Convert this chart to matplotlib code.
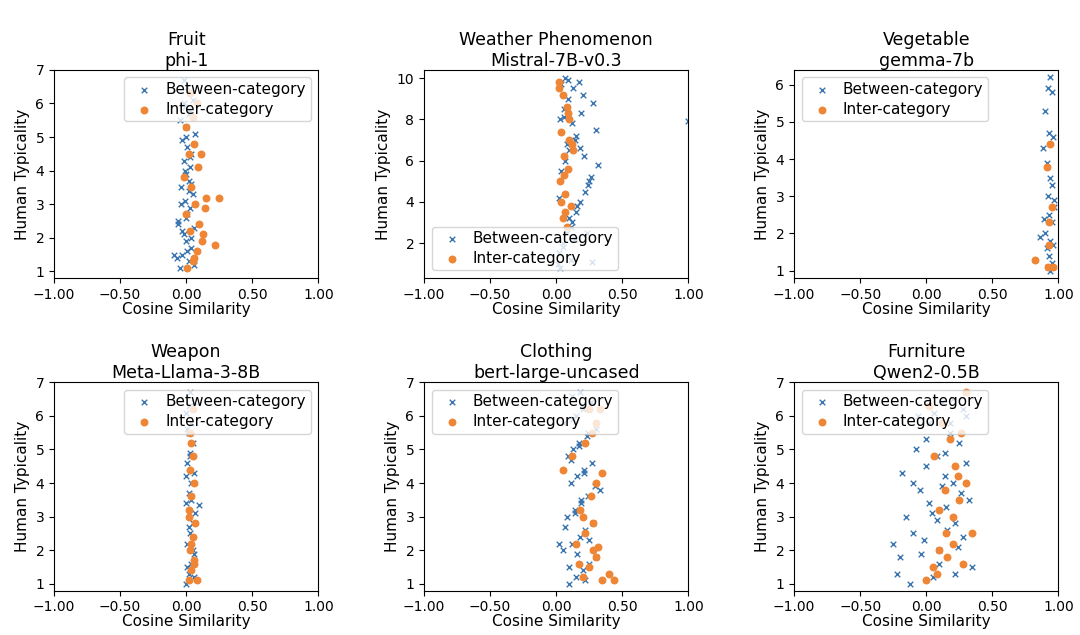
import matplotlib
matplotlib.use("Agg")
import matplotlib.pyplot as plt

titles = ["Fruit\nphi-1", "Weather Phenomenon\nMistral-7B-v0.3", "Vegetable\ngemma-7b",
          "Weapon\nMeta-Llama-3-8B", "Clothing\nbert-large-uncased", "Furniture\nQwen2-0.5B"]

# panel 1: Fruit / phi-1
p1_bx = [-0.05, 0.02, -0.03, 0.04, 0.0, -0.02, 0.06, -0.06, 0.01, 0.03, -0.01, 0.05, -0.04, 0.02, 0.0,
         -0.07, 0.03, -0.02, 0.04, 0.01, -0.03, 0.07, 0.0, -0.05, 0.02, -0.01, 0.05, -0.09, 0.03, 0.01,
         -0.02, 0.04, 0.0, -0.04, 0.02, 0.06, -0.01, 0.03, -0.03, 0.01, 0.0, 0.02, -0.02, 0.04, -0.06]
p1_by = [1.1, 1.3, 1.5, 1.7, 1.9, 2.1, 2.3, 2.5, 2.7, 2.9, 3.1, 3.3, 3.5, 3.7, 3.9,
         1.4, 4.1, 4.3, 4.5, 4.7, 4.9, 5.1, 5.3, 5.5, 5.7, 5.9, 6.1, 1.5, 6.3, 6.5,
         6.7, 2.0, 2.6, 3.0, 3.4, 1.2, 4.0, 4.4, 2.2, 1.6, 5.0, 5.8, 6.0, 3.6, 2.4]
p1_ox = [0.01, 0.05, 0.08, 0.12, 0.03, 0.1, 0.0, 0.07, 0.15, 0.04, 0.25, 0.22, 0.09, 0.02, 0.06,
         0.11, 0.13, 0.0, 0.05, 0.08, 0.03, 0.14, -0.02, 0.06]
p1_oy = [1.1, 1.3, 1.6, 1.9, 2.2, 2.4, 2.7, 3.0, 3.2, 3.5, 3.2, 1.8, 4.1, 4.5, 4.8,
         4.5, 2.1, 5.3, 5.6, 6.0, 6.3, 2.9, 3.8, 1.4]

# panel 2: Weather Phenomenon / Mistral-7B-v0.3
p2_bx = [0.02, 0.05, 0.08, 0.12, 0.15, 0.18, 0.22, 0.25, 0.04, 0.07, 0.1, 0.14, 0.3, 0.03, 0.06,
         0.09, 0.13, 0.17, 0.2, 0.28, 0.01, 0.05, 0.11, 0.16, 0.24, 0.32, 0.08, 0.12, 0.19, 0.04,
         0.07, 0.15, 0.21, 0.26, 0.02, 1.0, 0.1, 0.14, 0.09, 0.06, 0.18, 0.23, 0.03, 0.11, 0.27]
p2_by = [1.5, 2.0, 2.5, 3.0, 3.5, 4.0, 4.5, 5.0, 5.5, 6.0, 6.5, 7.0, 7.5, 8.0, 8.5,
         9.0, 9.5, 9.8, 9.2, 8.8, 1.0, 1.8, 2.8, 3.8, 4.8, 5.8, 6.8, 7.8, 8.3, 9.7,
         10.0, 7.2, 6.2, 5.2, 4.2, 7.9, 3.2, 2.2, 9.9, 8.1, 6.6, 2.5, 0.8, 1.2, 1.1]
p2_ox = [0.02, 0.05, 0.08, 0.1, 0.04, 0.12, 0.06, 0.09, 0.03, 0.07, 0.11, 0.05, 0.08, 0.02, 0.1,
         0.06, 0.04, 0.13, 0.09, 0.07]
p2_oy = [9.8, 9.2, 8.6, 8.0, 7.4, 6.8, 6.2, 5.6, 5.0, 4.4, 3.8, 3.2, 2.8, 9.5, 7.0,
         5.3, 4.0, 6.5, 8.3, 3.5]

# panel 3: Vegetable / gemma-7b
p3_bx = [0.94, 0.92, 0.95, 0.9, 0.93, 0.96, 0.88, 0.91, 0.94, 0.95, 0.92, 0.97, 0.89, 0.93, 0.95,
         0.9, 0.94, 0.96, 0.91, 0.93, 0.86, 0.95, 0.92, 0.94, 0.97]
p3_by = [6.2, 5.9, 5.8, 5.3, 4.7, 4.6, 4.3, 3.9, 3.5, 3.3, 3.0, 2.7, 2.4, 2.5, 2.3,
         2.0, 1.8, 1.7, 1.6, 1.4, 1.9, 1.2, 1.1, 1.0, 2.9]
p3_ox = [0.82, 0.92, 0.93, 0.91, 0.95, 0.94, 0.96, 0.93]
p3_oy = [1.3, 1.1, 1.7, 3.8, 2.7, 4.4, 1.1, 2.3]

# panel 4: Weapon / Meta-Llama-3-8B
p4_bx = [0.0, 0.02, 0.04, 0.06, 0.01, 0.03, 0.05, 0.07, 0.0, 0.02, 0.04, 0.06, 0.01, 0.03, 0.05,
         0.1, 0.02, 0.04, 0.0, 0.06, 0.03, 0.01, 0.05, 0.02, 0.04, 0.0, 0.03, 0.06, 0.01, 0.02]
p4_by = [1.0, 1.3, 1.6, 1.9, 2.2, 2.5, 2.8, 3.1, 3.4, 3.7, 4.0, 4.3, 4.6, 4.9, 5.2,
         3.35, 5.5, 5.8, 6.1, 6.4, 6.7, 1.5, 2.0, 2.7, 3.5, 4.2, 4.8, 1.2, 5.6, 6.3]
p4_ox = [0.02, 0.04, 0.06, 0.03, 0.05, 0.07, 0.02, 0.04, 0.06, 0.03, 0.05, 0.04, 0.08, 0.03, 0.05,
         0.06, 0.02, 0.04]
p4_oy = [1.1, 1.4, 1.7, 2.0, 2.4, 2.8, 3.2, 3.6, 4.0, 4.4, 4.8, 5.2, 1.1, 5.5, 6.2,
         1.6, 3.0, 2.2]

# panel 5: Clothing / bert-large-uncased
p5_bx = [0.1, 0.15, 0.2, 0.25, 0.3, 0.05, 0.12, 0.18, 0.22, 0.28, 0.08, 0.14, 0.19, 0.24, 0.33,
         0.02, 0.11, 0.16, 0.21, 0.27, 0.09, 0.13, 0.17, 0.23, 0.3, 0.06, 0.15, 0.2, 0.26, 0.12,
         0.18, 0.22, 0.1, 0.16, 0.25, 0.07, 0.14, 0.19, 0.29, 0.21, 0.11, 0.17, 0.24, 0.13, 0.2]
p5_by = [1.0, 1.2, 1.4, 1.6, 1.8, 2.0, 2.2, 2.4, 2.6, 2.8, 3.0, 3.2, 3.4, 3.6, 3.8,
         2.2, 4.0, 4.2, 4.4, 4.6, 4.8, 5.0, 5.2, 5.4, 5.6, 5.8, 6.0, 6.2, 6.4, 6.6,
         6.7, 1.1, 1.5, 1.9, 2.3, 2.7, 3.1, 3.5, 3.9, 4.3, 4.7, 5.1, 5.5, 5.9, 6.3]
p5_ox = [0.2, 0.25, 0.3, 0.35, 0.4, 0.44, 0.15, 0.22, 0.28, 0.32, 0.18, 0.26, 0.3, 0.35, 0.05,
         0.12, 0.22, 0.27, 0.3, 0.33, 0.25, 0.28, 0.17, 0.2]
p5_oy = [1.2, 1.5, 1.8, 1.1, 1.3, 1.1, 2.2, 2.5, 2.8, 2.1, 3.2, 3.6, 4.0, 4.3, 4.4,
         4.8, 5.2, 5.5, 5.8, 6.2, 6.2, 2.0, 1.6, 3.0]

# panel 6: Furniture / Qwen2-0.5B
p6_bx = [-0.25, -0.2, -0.15, -0.1, -0.05, 0.0, 0.05, 0.1, 0.15, 0.2, 0.25, 0.3, 0.35, -0.18, -0.08,
         0.02, 0.12, 0.22, 0.32, -0.12, -0.02, 0.08, 0.18, 0.28, -0.22, 0.04, 0.14, 0.24, -0.06, 0.1,
         0.2, 0.3, 0.0, 0.16, 0.26, -0.1, 0.06, 0.12, 0.22, 0.18, 0.08, 0.28, -0.04, 0.14, 0.02]
p6_by = [2.2, 1.8, 3.0, 2.5, 3.8, 4.5, 1.2, 2.0, 3.3, 4.0, 5.2, 6.0, 1.5, 4.3, 5.0,
         5.8, 6.4, 2.8, 3.5, 1.0, 2.3, 4.8, 5.5, 6.2, 1.3, 3.1, 4.2, 2.1, 6.0, 1.6,
         6.5, 4.6, 5.3, 2.6, 3.7, 4.0, 6.1, 3.9, 1.3, 5.8, 2.9, 2.4, 1.9, 4.9, 3.4]
p6_ox = [0.0, 0.05, 0.1, 0.15, 0.2, 0.25, 0.3, 0.02, 0.12, 0.18, 0.22, 0.28, 0.08, 0.14, 0.24,
         0.3, 0.35, 0.06, 0.2, 0.16, 0.26, 0.1]
p6_oy = [1.1, 1.5, 2.0, 2.5, 3.0, 3.5, 4.0, 6.3, 5.8, 5.3, 4.5, 1.6, 1.3, 3.8, 4.2,
         6.7, 2.5, 4.8, 2.2, 1.8, 5.5, 3.2]

panels = [(p1_bx, p1_by, p1_ox, p1_oy), (p2_bx, p2_by, p2_ox, p2_oy), (p3_bx, p3_by, p3_ox, p3_oy),
          (p4_bx, p4_by, p4_ox, p4_oy), (p5_bx, p5_by, p5_ox, p5_oy), (p6_bx, p6_by, p6_ox, p6_oy)]
legend_locs = ["upper right", "lower left", "upper left", "upper right", "upper left", "upper left"]
y_ticks = [range(1, 8), range(2, 11, 2), range(1, 7), range(1, 8), range(1, 8), range(1, 8)]
y_lims = [(0.8, 7.0), (0.3, 10.4), (0.8, 6.4), (0.8, 7.0), (0.8, 7.0), (0.8, 7.0)]

fig, axes = plt.subplots(2, 3, figsize=(10.8, 6.35), dpi=100)
for i, ax in enumerate(axes.flat):
    bx, by, ox, oy = panels[i]
    ax.scatter(bx, by, marker="x", s=16, linewidths=1, color="#3a75af", label="Between-category")
    ax.scatter(ox, oy, marker="o", s=22, color="#ef8636", label="Inter-category")
    ax.set_xlim(-1, 1)
    ax.set_ylim(*y_lims[i])
    ax.set_yticks(list(y_ticks[i]))
    ax.set_xticks([-1, -0.5, 0, 0.5, 1])
    ax.set_xticklabels(["\u22121.00", "\u22120.50", "0.00", "0.50", "1.00"])
    ax.set_title(titles[i], fontsize=12.5, pad=3)
    ax.set_xlabel("Cosine Similarity", fontsize=11, labelpad=0)
    ax.set_ylabel("Human Typicality", fontsize=11)
    ax.legend(loc=legend_locs[i], fontsize=11, handletextpad=0.4, borderpad=0.3, labelspacing=0.3)

plt.subplots_adjust(left=0.05, right=0.98, top=0.89, bottom=0.07, wspace=0.4, hspace=0.5)
fig.savefig("out.png")
